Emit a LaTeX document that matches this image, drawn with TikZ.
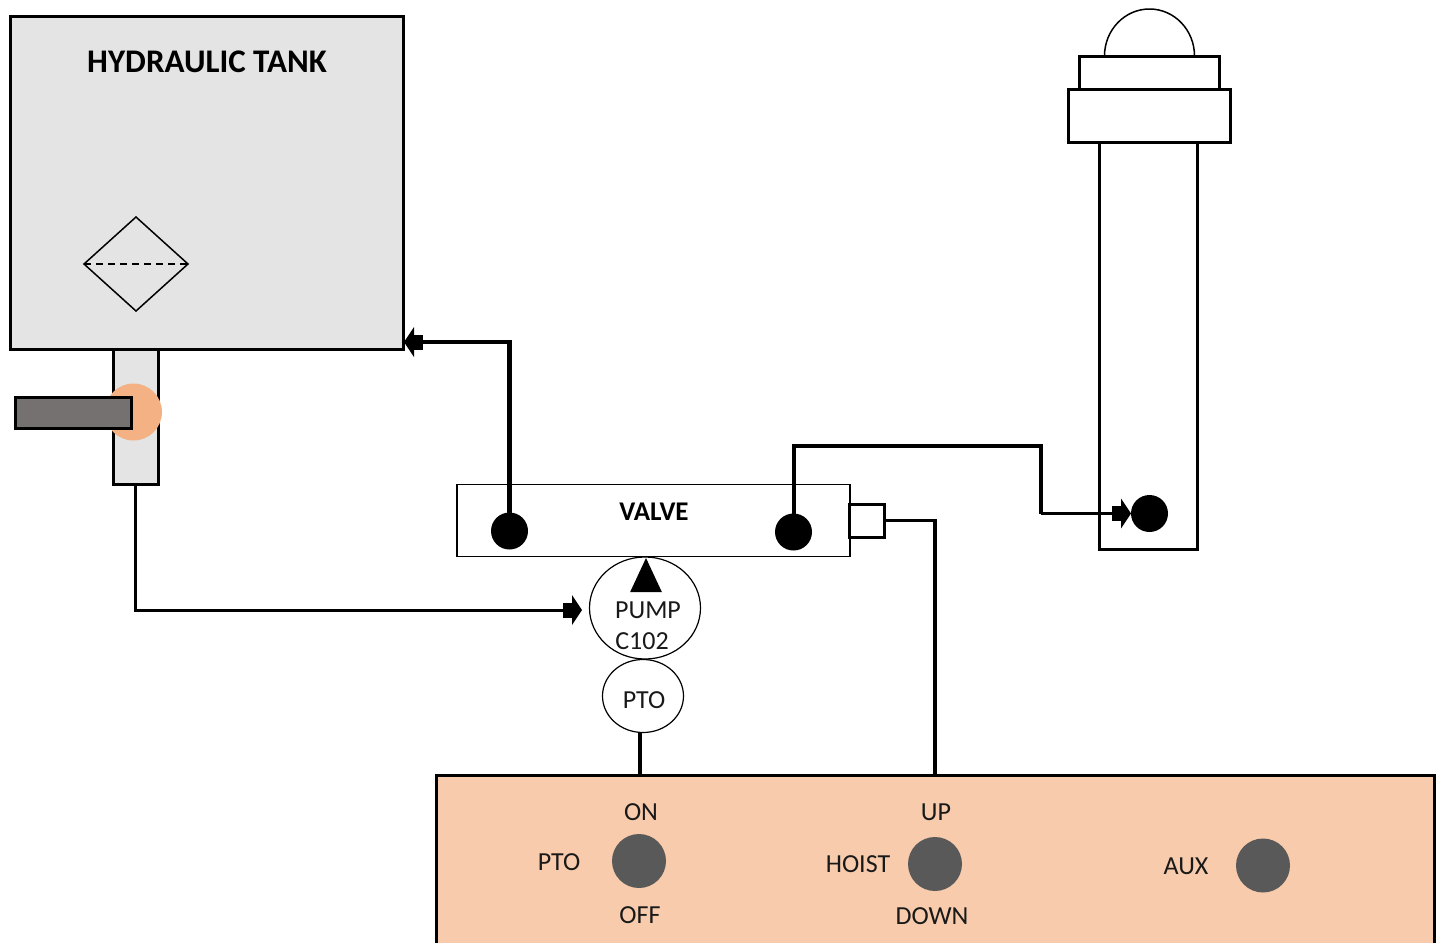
\documentclass[tikz,border=0pt]{standalone}
\usepackage{fontspec}
\setmainfont{Carlito}
\usetikzlibrary{arrows.meta,shapes.geometric}
\definecolor{tankgray}{HTML}{E4E4E4}
\definecolor{valveorange}{HTML}{F4B183}
\definecolor{handlegray}{HTML}{767171}
\definecolor{panelfill}{HTML}{F7CBAC}
\definecolor{knobgray}{HTML}{595959}
\tikzset{
  base/.style={inner sep=0pt,outer sep=0pt},
  heavybox/.style={base,draw=black,line width=3pt,rectangle},
  label/.style={base,font=\fontsize{26}{26}\selectfont,text=black!90},
  boldlabel/.style={base,font=\fontsize{27}{27}\selectfont\bfseries,text=black},
  ball/.style={base,circle,fill=black,minimum size=37pt},
  knob/.style={base,circle,fill=knobgray,minimum size=54pt},
  thinround/.style={base,ellipse,draw=black,line width=1.2pt},
  pipeline/.style={draw=black,line width=3.5pt},
  fluidtip/.style={-{Rectangle[length=9pt,width=15pt,line width=0pt,sep=0pt]Triangle[length=10pt,width=30pt,line width=0pt]}}
}
\begin{document}
\begin{tikzpicture}[x=1pt,y=-1pt]
\useasboundingbox (0,0) rectangle (1436,943);
\clip (0,0) rectangle (1436,943);
% hydraulic tank
\node[heavybox,fill=tankgray,minimum width=393.5pt,minimum height=333pt] (tank) at (207,182.5) {};
\node[heavybox,fill=tankgray,minimum width=45pt,minimum height=135pt] (suction) at (135.5,416.5) {};
\node[boldlabel,font=\fontsize{33}{33}\selectfont\bfseries] (tanktitle) at (207,62) {HYDRAULIC TANK};
\node[base,diamond,draw=black,line width=1.5pt,aspect=1.106,minimum width=104pt,minimum height=94pt] (filter) at (136,264) {};
\draw[dashed,line width=1.2pt,dash pattern=on 7pt off 5pt] (filter.west) -- (filter.east);
% shut-off valve
\node[base,circle,fill=valveorange,minimum size=57pt] (shutoff) at (133.5,412) {};
\node[heavybox,fill=handlegray,minimum width=116pt,minimum height=31pt] (handle) at (73,412.5) {};
% control valve
\node[base,rectangle,draw=black,line width=1.5pt,fill=white,minimum width=393pt,minimum height=72pt] (valve) at (653.5,520.5) {};
\node[boldlabel] (valvetitle) at (654,512) {VALVE};
\node[ball] (vl) at (509.5,531) {};
\node[ball] (vr) at (793.5,532) {};
\node[heavybox,fill=white,minimum width=35pt,minimum height=33pt] (spool) at (866.5,520.5) {};
% pump and PTO
\node[thinround,minimum width=111pt,minimum height=102pt] (pump) at (645,608) {};
\node[thinround,minimum width=81pt,minimum height=73pt] (ptoround) at (643,696) {};
\node[base,isosceles triangle,isosceles triangle apex angle=50,shape border rotate=90,fill=black,minimum height=34pt,anchor=apex] (pumptri) at (646,558) {};
\node[label] (pumpname) at (648,610) {PUMP};
\node[label] (pumpcode) at (642,641) {C102};
\node[label] (ptoname) at (644,700) {PTO};
% cylinder
\node[heavybox,minimum width=98pt,minimum height=407pt] (cyl) at (1148,345.5) {};
\draw[black,line width=1.5pt] (1104.5,56) arc[start angle=180,end angle=360,x radius=45,y radius=47];
\node[heavybox,fill=white,minimum width=140pt,minimum height=33pt] (capup) at (1149,72.5) {};
\node[heavybox,fill=white,minimum width=162pt,minimum height=53pt] (caplow) at (1149,115.5) {};
\node[ball] (piston) at (1149.5,513.5) {};
% control panel
\node[heavybox,fill=panelfill,anchor=north west,minimum width=998.5pt,minimum height=190pt] (panel) at (436,775) {};
\node[knob] (kpto) at (639,861) {};
\node[knob] (khoist) at (935,864) {};
\node[knob] (kaux) at (1263,865.5) {};
\node[label] (lon) at (641,812) {ON};
\node[label] (loff) at (640,915) {OFF};
\node[label] (lpto) at (559,862) {PTO};
\node[label] (lup) at (936,812) {UP};
\node[label] (lhoist) at (858,864) {HOIST};
\node[label] (ldown) at (932,916) {DOWN};
\node[label] (laux) at (1186,866) {AUX};
% connectors
\coordinate (tankin) at (404,342);
\coordinate (b1) at (1041,446);
\coordinate (hoistin) at (935,775);
\coordinate (ptoin) at (640,775);
\coordinate (ptoout) at (640,732);
\coordinate (pumpin) at (582,610);
\draw[pipeline,line width=4.5pt] (vl.center) -- (vl.center |- tankin);
\draw[pipeline,line width=3.5pt,fluidtip] ([xshift=2.25pt]vl.center |- tankin) -- (tankin);
\draw[pipeline,line width=3pt,fluidtip] (suction.south) |- (pumpin);
\draw[pipeline,line width=4pt,line join=miter] (vr.center) |- (b1) -- ++(0,68);
\draw[pipeline,fluidtip,line width=3.5pt] (b1 |- piston.west) -- (piston.west);
\draw[pipeline] (spool.east) -| (hoistin);
\draw[pipeline,line width=4pt] (ptoout) -- (ptoin);
\end{tikzpicture}
\end{document}
